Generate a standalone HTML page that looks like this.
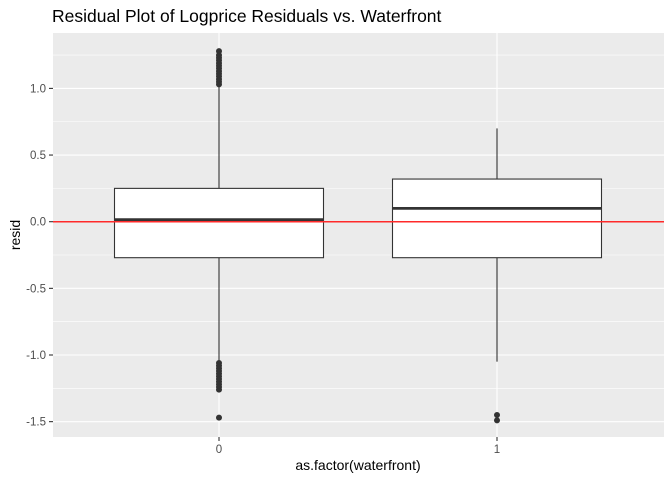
<!DOCTYPE html>
<html><head><meta charset="utf-8"><style>
body{margin:0;background:#fff}
svg text{font-family:"Liberation Sans",sans-serif}
</style></head><body>
<svg id="chart" width="672" height="480">
<text x="52" y="22" font-size="17.5" fill="#000">Residual Plot of Logprice Residuals vs. Waterfront</text>
<rect x="53" y="33" width="611" height="404" fill="#ebebeb"/>
<g id="grid"></g><g id="marks"></g><g id="axes"></g>
<text x="358" y="470" font-size="14" text-anchor="middle" fill="#000">as.factor(waterfront)</text>
<text transform="translate(20,235) rotate(-90)" font-size="14" text-anchor="middle" fill="#000">resid</text>
</svg>
<script>
const categories=["0","1"];
const q1=[-0.27,-0.27];
const medians=[0.015,0.10];
const q3=[0.25,0.32];
const whiskLow=[-1.05,-1.05];
const whiskHigh=[1.02,0.70];
const outliers0=[1.03,1.05,1.07,1.09,1.11,1.13,1.15,1.17,1.19,1.21,1.23,1.25,1.28,-1.06,-1.08,-1.10,-1.12,-1.14,-1.16,-1.18,-1.20,-1.22,-1.24,-1.26,-1.47];
const outliers1=[-1.45,-1.49];
const yTicks=[-1.5,-1.0,-0.5,0.0,0.5,1.0];
const yTickLabels=["-1.5","-1.0","-0.5","0.0","0.5","1.0"];
const refLine=[0];

const NS="http://www.w3.org/2000/svg";
const y=v=>221.7-v*133.3;
const x=i=>219+i*278;
const bw=209;
function mk(p,t,a){const e=document.createElementNS(NS,t);for(const k in a)e.setAttribute(k,a[k]);p.appendChild(e);return e;}
const grid=document.getElementById('grid'),marks=document.getElementById('marks'),axes=document.getElementById('axes');
for(let k=0;k<yTicks.length-1;k++){const v=(yTicks[k]+yTicks[k+1])/2;
 const g=mk(grid,'line',{x1:53,x2:664,y1:y(v),y2:y(v),stroke:'#fff','stroke-width':0.55});
 
 }
{const v=yTicks[yTicks.length-1]+0.25;const g=mk(grid,'line',{x1:53,x2:664,y1:y(v),y2:y(v),stroke:'#fff','stroke-width':0.55});
 
 }
yTicks.forEach((v,k)=>{
 const g=mk(grid,'line',{x1:53,x2:664,y1:y(v),y2:y(v),stroke:'#fff','stroke-width':1.1});
 
 
 const t=mk(axes,'line',{x1:49,x2:53,y1:y(v),y2:y(v),stroke:'#333','stroke-width':1.1});
 
 
 const l=mk(axes,'text',{x:46,y:y(v)+4,'font-size':11.5,'text-anchor':'end',fill:'#4d4d4d'});l.textContent=yTickLabels[k];
 
 
});
categories.forEach((c,i)=>{
 const g=mk(grid,'line',{x1:x(i),x2:x(i),y1:33,y2:437,stroke:'#fff','stroke-width':1.1});
 
 
 const t=mk(axes,'line',{x1:x(i),x2:x(i),y1:437,y2:441,stroke:'#333','stroke-width':1.1});
 
 
 const l=mk(axes,'text',{x:x(i),y:453,'font-size':11.5,'text-anchor':'middle',fill:'#4d4d4d'});l.textContent=c;
 
 
 const w1=mk(marks,'line',{x1:x(i),x2:x(i),y1:y(q3[i]),y2:y(whiskHigh[i]),stroke:'#333','stroke-width':1.1});
 
 
 const w2=mk(marks,'line',{x1:x(i),x2:x(i),y1:y(q1[i]),y2:y(whiskLow[i]),stroke:'#333','stroke-width':1.1});
 
 
 const b=mk(marks,'rect',{x:x(i)-bw/2,y:y(q3[i]),width:bw,height:y(q1[i])-y(q3[i]),fill:'#fff',stroke:'#333','stroke-width':1.1});
 
 
 const m=mk(marks,'line',{x1:x(i)-bw/2,x2:x(i)+bw/2,y1:y(medians[i]),y2:y(medians[i]),stroke:'#333','stroke-width':2.8});
 
 
 (i===0?outliers0:outliers1).forEach(v=>{
  const p=mk(marks,'circle',{cx:x(i),cy:y(v),r:3,fill:'#333'});
  
  
 });
});
refLine.forEach(v=>{
 const r=mk(marks,'line',{x1:53,x2:664,y1:y(v),y2:y(v),stroke:'#ff2a2a','stroke-width':1.5});
 
 
});
</script>
</body></html>
